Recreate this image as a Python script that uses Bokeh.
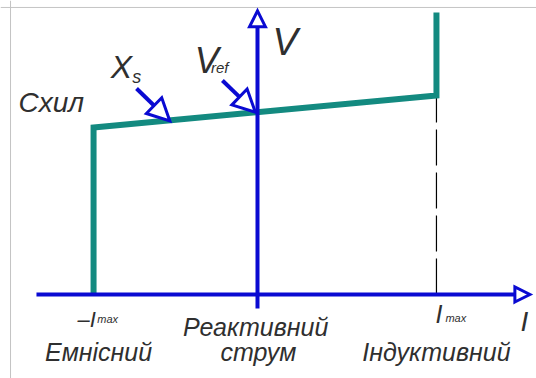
import math
from bokeh.plotting import figure
from bokeh.models import Range1d, Arrow, NormalHead, Span
from bokeh.embed import file_html
from bokeh.resources import INLINE

# ---- data (normalised: I / Imax, V / V(Imax)) ----
i_neg_max = -0.916          # -Imax (capacitive limit)
i_pos_max = 1.0             # +Imax (inductive limit)
v_at_neg = 0.839            # V at -Imax
v_at_pos = 1.0              # V at +Imax
v_top = 1.417               # top of vertical branch at +Imax
char_x = [i_neg_max, i_neg_max, i_pos_max, i_pos_max]
char_y = [0.0, v_at_neg, v_at_pos, v_top]
v_ref = v_at_neg + (0 - i_neg_max) / (i_pos_max - i_neg_max) * (v_at_pos - v_at_neg)

TEAL = "#138a80"
BLUE = "#0a0ad2"
TXT = "#2f2f2f"
FONT = "Liberation Sans"

W, H = 536, 378
XR = (-1.436, 1.559)
YR = (-0.422, 1.477)
SX = W / (XR[1] - XR[0])
SY = H / (YR[1] - YR[0])

p = figure(width=W, height=H, output_backend="svg", toolbar_location=None,
           x_range=Range1d(*XR), y_range=Range1d(*YR),
           min_border=0, outline_line_color=None)
p.axis.visible = False
p.grid.visible = False
p.background_fill_color = "white"

# frame lines (top and left)
p.add_layout(Span(location=1.442, dimension="width", line_color="#c4c4c4", line_width=1))
p.add_layout(Span(location=-1.380, dimension="height", line_color="#c4c4c4", line_width=1))

# dashed line at +Imax
p.line([i_pos_max, i_pos_max], [0, v_at_pos], line_color="black", line_width=1.2,
       line_dash="36 7")

# characteristic
p.line(char_x, char_y, line_color=TEAL, line_width=6, line_join="miter")


def arrow(x0, y0, x1, y1, size, lw=4, hw=3):
    dxp = (x1 - x0) * SX
    dyp = (y1 - y0) * SY
    L = math.hypot(dxp, dyp)
    f = (L - size + 1) / L
    xb = x0 + (x1 - x0) * f
    yb = y0 + (y1 - y0) * f
    p.segment(x0=[x0], y0=[y0], x1=[xb], y1=[yb], line_color=BLUE, line_width=lw)
    p.add_layout(Arrow(end=NormalHead(size=size, fill_color="white", line_color=BLUE,
                                      line_width=hw, line_join="miter"),
                       x_start=x0, y_start=y0, x_end=x1, y_end=y1,
                       line_alpha=0))


# axes
arrow(-1.235, 0, 1.522, 0, 15)
arrow(0, -0.07, 0, 1.425, 16)

# pointer arrows
arrow(-0.676, 1.035, -0.49, 0.872, 22)
arrow(-0.196, 1.075, -0.012, v_ref, 22)

DY = 0.045

def txt(x, y, s, size, align="left"):
    p.text(x=[x], y=[y + DY], text=[s], text_font_size=f"{size}px", text_font_style="italic",
           text_color=TXT, text_align=align, text_baseline="alphabetic",
           text_font={"value": FONT})

txt(-1.335, 0.92, "Схил", 28)
txt(-0.82, 1.10, "X", 32)
txt(-0.70, 1.05, "s", 18)
txt(-0.35, 1.13, "V", 36)
txt(-0.26, 1.095, "ref", 15)
txt(0.084, 1.225, "V", 38)

txt(-1.006, -0.171, "–I", 22)
txt(-0.895, -0.166, "max", 11)
txt(0.994, -0.141, "I", 25)
txt(1.05, -0.161, "max", 11)
txt(1.47, -0.181, "I", 28)

txt(-0.01, -0.206, "Реактивний", 25, "center")
txt(0.005, -0.332, "струм", 25, "center")
txt(-0.888, -0.332, "Емнісний", 25, "center")
txt(1.0, -0.332, "Індуктивний", 25, "center")

open("out.html", "w").write(file_html(p, INLINE))
